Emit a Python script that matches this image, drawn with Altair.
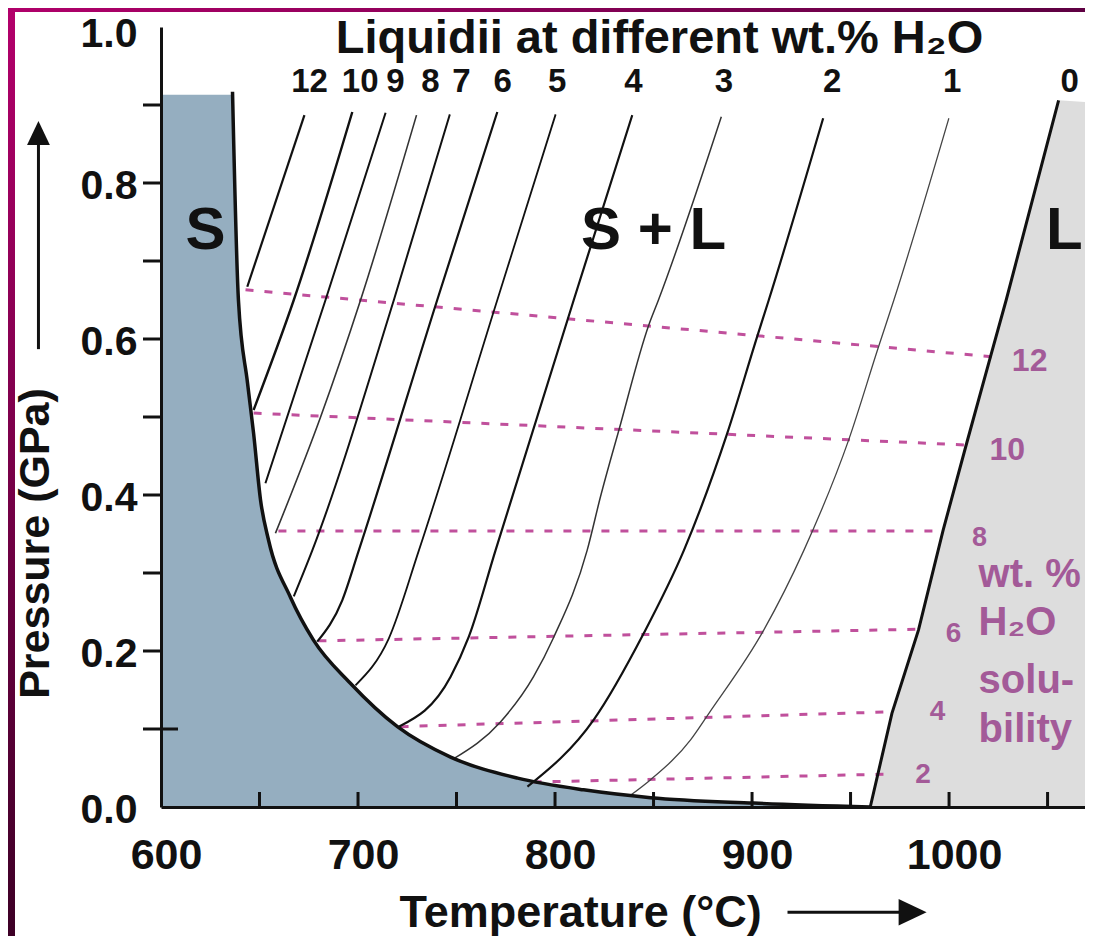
import altair as alt
import pandas as pd

FONT = "Liberation Sans, Arial, Helvetica, sans-serif"
INK = "#111111"
PINK = "#c0509c"
MAUVE = "#a35a98"
BLUE = "#95aec0"
GREY = "#dddddd"

# ---- axes -------------------------------------------------------------
T_MIN, T_MAX = 600, 1069
P_MIN, P_MAX = 0.0, 1.0
x_label_values = [600, 700, 800, 900, 1000]
x_tick_values = [650, 700, 750, 800, 850, 900, 950, 1000, 1050]
y_label_values = [0.0, 0.2, 0.4, 0.6, 0.8, 1.0]
y_tick_values = [0.1, 0.2, 0.3, 0.4, 0.5, 0.6, 0.7, 0.8, 0.9]
y_inner_tick_values = [0.1]

# ---- solidus (boundary of the S field) --------------------------------
solidus_T = [636.3, 639.3, 643.9, 647.0, 650.5, 654.6, 665.7, 677.4, 696.0,
             720.0, 747.0, 781.0, 814.5, 848.5, 900.8, 960.0]
solidus_P = [0.917, 0.650, 0.544, 0.479, 0.394, 0.342, 0.269, 0.214, 0.159,
             0.103, 0.064, 0.037, 0.022, 0.012, 0.005, 0.0]
solid_field_top = 0.913

# ---- dry liquidus (0 wt.% H2O) -----------------------------------------
liq0_T = [960.0, 971.0, 984.5, 997.0, 1009.0, 1021.0, 1029.0, 1055.6]
liq0_P = [0.0, 0.120, 0.227, 0.355, 0.467, 0.577, 0.650, 0.906]
liquid_field_top = 0.904

# ---- liquidii at different wt.% H2O ------------------------------------
liq12_T = [672.8, 643.8]
liq12_P = [0.887, 0.667]
liq10_T = [697.1, 667.4, 647.0]
liq10_P = [0.891, 0.650, 0.509]
liq9_T = [714.0, 683.5, 653.0]
liq9_P = [0.890, 0.650, 0.415]
liq8_T = [729.7, 701.3, 681.0, 658.1]
liq8_P = [0.887, 0.650, 0.500, 0.351]
liq7_T = [746.6, 718.2, 676.8, 667.4]
liq7_P = [0.888, 0.650, 0.329, 0.270]
liq6_T = [770.7, 740.2, 700.4, 692.0, 679.3]
liq6_P = [0.891, 0.650, 0.329, 0.265, 0.212]
liq5_T = [800.3, 770.7, 730.9, 715.6, 698.7]
liq5_P = [0.888, 0.650, 0.329, 0.216, 0.156]
liq4_T = [839.2, 809.5, 769.8, 756.2, 747.0, 720.7]
liq4_P = [0.887, 0.650, 0.329, 0.218, 0.167, 0.103]
liq3_T = [884.4, 852.5, 847.6, 832.4, 823.1, 816.3, 799.4, 789.1, 772.3, 748.6]
liq3_P = [0.885, 0.650, 0.618, 0.483, 0.398, 0.329, 0.218, 0.167, 0.109, 0.062]
liq2_T = [936.1, 908.5, 902.6, 887.4, 865.4, 845.1, 819.7, 786.0]
liq2_P = [0.883, 0.650, 0.603, 0.479, 0.329, 0.223, 0.112, 0.026]
liq1_T = [999.9, 972.0, 964.2, 949.1, 926.3, 906.0, 878.1, 868.8, 848.5, 838.3]
liq1_P = [0.883, 0.650, 0.590, 0.471, 0.329, 0.227, 0.120, 0.086, 0.035, 0.015]

liq_names = ["12", "10", "9", "8", "7", "6", "5", "4", "3", "2", "1"]
liq_widths = [2.2, 2.4, 2.0, 1.6, 2.0, 2.2, 1.8, 2.2, 1.5, 2.2, 1.3]
liq_colors = [INK, INK, INK, "#333333", INK, INK, INK, INK, "#333333", INK, "#444444"]
liq_T = [liq12_T, liq10_T, liq9_T, liq8_T, liq7_T, liq6_T, liq5_T, liq4_T, liq3_T, liq2_T, liq1_T]
liq_P = [liq12_P, liq10_P, liq9_P, liq8_P, liq7_P, liq6_P, liq5_P, liq4_P, liq3_P, liq2_P, liq1_P]

# labels above the liquidii
top_label_names = ["12", "10", "9", "8", "7", "6", "5", "4", "3", "2", "1", "0"]
top_label_T = [675.4, 701.1, 719.0, 736.8, 752.5, 773.4, 801.1, 839.8, 885.7, 940.7, 1001.6, 1061.2]
top_label_P = 0.929

# ---- H2O solubility isopleths (dashed) ---------------------------------
sol_wt = ["12", "10", "8", "6", "4", "2"]
sol_T0 = [642.9, 647.0, 659.6, 679.9, 721.6, 789.1]
sol_P0 = [0.663, 0.505, 0.354, 0.213, 0.103, 0.032]
sol_T1 = [1022.6, 1009.4, 997.2, 987.1, 970.3, 966.8]
sol_P1 = [0.577, 0.464, 0.354, 0.228, 0.122, 0.042]
sol_label_T = [1040.9, 1029.5, 1015.5, 1002.3, 994.2, 986.8]
sol_label_P = [0.572, 0.458, 0.3455, 0.2224, 0.1224, 0.0404]
sol_label_size = [32, 32, 27, 28, 28, 28]

# solubility note
note_lines = ["wt. %", "H\u2082O", "solu-", "bility"]
note_T = 1015.0
note_P = [0.2824, 0.2205, 0.1462, 0.0837]

# field labels
field_names = ["S", "S + L", "L"]
field_T = [622.6, 850.0, 1058.5]
field_P = 0.739

title_text = "Liquidii at different wt.% H\u2082O"
title_T, title_P = 853.0, 0.967

# axis arrows (annotation, data units)
yarrow_T = 537.8
yarrow_P = [0.587, 0.849]
yarrow_head_P = 0.864
xarrow_T = [918.0, 976.0]
xarrow_P = -0.135
xarrow_head_T = 981.5

# ------------------------------------------------------------------------
W, H = 924, 780
xscale = alt.Scale(domain=[T_MIN, T_MAX], nice=False, zero=False)
yscale = alt.Scale(domain=[P_MIN, P_MAX], nice=False, zero=False)

xaxis = alt.Axis(values=x_label_values, format="d", grid=False, ticks=False, tickSize=0,
                 labelFont=FONT, labelFontSize=43, labelFontWeight="bold", labelColor=INK,
                 labelPadding=27, labelOffset=5, labelFlush=False,
                 domainColor=INK, domainWidth=3, zindex=1,
                 title="Temperature (\u00b0C)", titleFont=FONT, titleFontSize=45,
                 titleFontWeight="bold", titleColor=INK, titleX=238, titleY=119,
                 titleAlign="left", titleBaseline="alphabetic")
yaxis = alt.Axis(values=y_label_values, format=".1f", grid=False, ticks=False, tickSize=0,
                 labelFont=FONT, labelFontSize=41, labelFontWeight="bold", labelColor=INK,
                 labelPadding=24,
                 labelOffset={"condition": {"test": "datum.value >= 0.99", "value": 7}, "value": 3},
                 domainColor=INK, domainWidth=3, zindex=1,
                 title="Pressure (GPa)", titleFont=FONT, titleFontSize=43,
                 titleFontWeight="bold", titleColor=INK, titleAngle=270, titleX=-113,
                 titleY=516, titleAlign="center", titleBaseline="alphabetic")

X = alt.X("T:Q", scale=xscale, axis=xaxis)
Y = alt.Y("P:Q", scale=yscale, axis=yaxis)

# tables
solid_df = pd.DataFrame({"T": [T_MIN] + solidus_T, "P": [solid_field_top, solid_field_top] + solidus_P[1:], "B": 0.0})
liquid_df = pd.DataFrame({"T": liq0_T + [T_MAX], "P": liq0_P + [liquid_field_top], "B": 0.0})
solidus_df = pd.DataFrame({"T": solidus_T, "P": solidus_P})
liq0_df = pd.DataFrame({"T": liq0_T, "P": liq0_P})

rows = []
for name, ts, ps, w, c in zip(liq_names, liq_T, liq_P, liq_widths, liq_colors):
    for i, (t, p) in enumerate(zip(ts, ps)):
        rows.append({"name": name, "T": t, "P": p, "w": w, "c": c, "i": i})
liq_df = pd.DataFrame(rows)

drows = []
for n, a, b, c, d in zip(sol_wt, sol_T0, sol_P0, sol_T1, sol_P1):
    drows.append({"wt": n, "T": a, "P": b, "i": 0})
    drows.append({"wt": n, "T": c, "P": d, "i": 1})
dash_df = pd.DataFrame(drows)

top_df = pd.DataFrame({"T": top_label_T, "P": top_label_P, "txt": top_label_names})
sol_lab_df = pd.DataFrame({"T": sol_label_T, "P": sol_label_P, "txt": sol_wt, "s": sol_label_size})
note_df = pd.DataFrame({"T": note_T, "P": note_P, "txt": note_lines})
field_df = pd.DataFrame({"T": field_T, "P": field_P, "txt": field_names})
title_df = pd.DataFrame({"T": [title_T], "P": [title_P], "txt": [title_text]})
xt_df = pd.DataFrame({"T": x_tick_values})
yt_df = pd.DataFrame({"P": y_tick_values})
yti_df = pd.DataFrame({"P": y_inner_tick_values})
yarrow_df = pd.DataFrame({"T": [yarrow_T, yarrow_T], "P": yarrow_P, "g": 0})
yhead_df = pd.DataFrame({"T": [yarrow_T], "P": [yarrow_head_P]})
xarrow_df = pd.DataFrame({"T": xarrow_T, "P": [xarrow_P, xarrow_P], "g": 0})
xhead_df = pd.DataFrame({"T": [xarrow_head_T], "P": [xarrow_P]})
deco_df = pd.DataFrame({"k": [0]})

grad_v = alt.Gradient(gradient="linear", x1=0, x2=0, y1=0, y2=1,
                      stops=[alt.GradientStop(color="#b3006b", offset=0),
                             alt.GradientStop(color="#3d0026", offset=1)])
grad_h = alt.Gradient(gradient="linear", x1=0, x2=1, y1=0, y2=0,
                      stops=[alt.GradientStop(color="#b0006a", offset=0),
                             alt.GradientStop(color="#5e0042", offset=1)])

layers = []
layers.append(alt.Chart(solid_df).mark_area(color=BLUE, interpolate="monotone").encode(
    x=X, y=Y, y2=alt.Y2("B:Q")))
layers.append(alt.Chart(liquid_df).mark_area(color=GREY, clip=True).encode(
    x=X, y=Y, y2=alt.Y2("B:Q")))
layers.append(alt.Chart(dash_df).mark_line(color=PINK, strokeWidth=3, strokeDash=[8, 11]).encode(
    x=X, y=Y, detail="wt:N", order="i:Q"))
layers.append(alt.Chart(liq_df).mark_line(interpolate="monotone").encode(
    x=X, y=Y, detail="name:N",
    strokeWidth=alt.StrokeWidth("w:Q", scale=None),
    color=alt.Color("c:N", scale=None)))
layers.append(alt.Chart(liq0_df).mark_line(color=INK, strokeWidth=3).encode(x=X, y=Y))
layers.append(alt.Chart(solidus_df).mark_line(color=INK, strokeWidth=3.5, interpolate="monotone").encode(x=X, y=Y))
# axis ticks
layers.append(alt.Chart(xt_df).mark_rule(color=INK, strokeWidth=3).encode(
    x=X, y=alt.value(H - 15), y2=alt.value(H)))
layers.append(alt.Chart(yt_df).mark_rule(color=INK, strokeWidth=3).encode(
    y=Y, x=alt.value(-18), x2=alt.value(0)))
layers.append(alt.Chart(yti_df).mark_rule(color=INK, strokeWidth=3).encode(
    y=Y, x=alt.value(0), x2=alt.value(17)))
# texts
layers.append(alt.Chart(title_df).mark_text(font=FONT, fontSize=47, fontWeight="bold", color=INK,
                                            align="center", baseline="alphabetic").encode(x=X, y=Y, text="txt:N"))
layers.append(alt.Chart(top_df).mark_text(font=FONT, fontSize=33, fontWeight="bold", color=INK,
                                          align="center", baseline="middle").encode(x=X, y=Y, text="txt:N"))
layers.append(alt.Chart(field_df).mark_text(font=FONT, fontSize=60, fontWeight="bold", color=INK,
                                            align="center", baseline="middle").encode(x=X, y=Y, text="txt:N"))
layers.append(alt.Chart(sol_lab_df).mark_text(font=FONT, fontWeight="bold", color=MAUVE,
                                              align="center", baseline="middle").encode(
    x=X, y=Y, text="txt:N", size=alt.Size("s:Q", scale=None)))
layers.append(alt.Chart(note_df).mark_text(font=FONT, fontSize=40, fontWeight="bold", color=MAUVE,
                                           align="left", baseline="alphabetic").encode(x=X, y=Y, text="txt:N"))
# axis arrows
layers.append(alt.Chart(yarrow_df).mark_line(color=INK, strokeWidth=3, clip=False).encode(x=X, y=Y, detail="g:N"))
layers.append(alt.Chart(yhead_df).mark_point(shape="M0,-1L0.95,1L-0.95,1Z", size=576, filled=True,
                                             color=INK, opacity=1, clip=False).encode(x=X, y=Y))
layers.append(alt.Chart(xarrow_df).mark_line(color=INK, strokeWidth=3, clip=False).encode(x=X, y=Y, detail="g:N"))
layers.append(alt.Chart(xhead_df).mark_point(shape="M1,0L-1,-0.95L-1,0.95Z", size=784, filled=True,
                                             color=INK, opacity=1, clip=False).encode(x=X, y=Y))
# slide border
layers.append(alt.Chart(deco_df).mark_rect(fill=grad_v).encode(
    x=alt.value(-153), x2=alt.value(-146), y=alt.value(-19), y2=alt.value(H + 129)))
layers.append(alt.Chart(deco_df).mark_rect(fill=grad_h).encode(
    x=alt.value(-153), x2=alt.value(W), y=alt.value(-19), y2=alt.value(-15)))

chart = alt.layer(*layers).properties(
    width=W, height=H,
    autosize=alt.AutoSizeParams(type="none"),
    padding={"left": 153, "top": 19, "right": 0, "bottom": 129},
    background="white",
).configure_view(strokeWidth=0)

chart.save("out.html", embed_options={"renderer": "svg", "actions": False})
